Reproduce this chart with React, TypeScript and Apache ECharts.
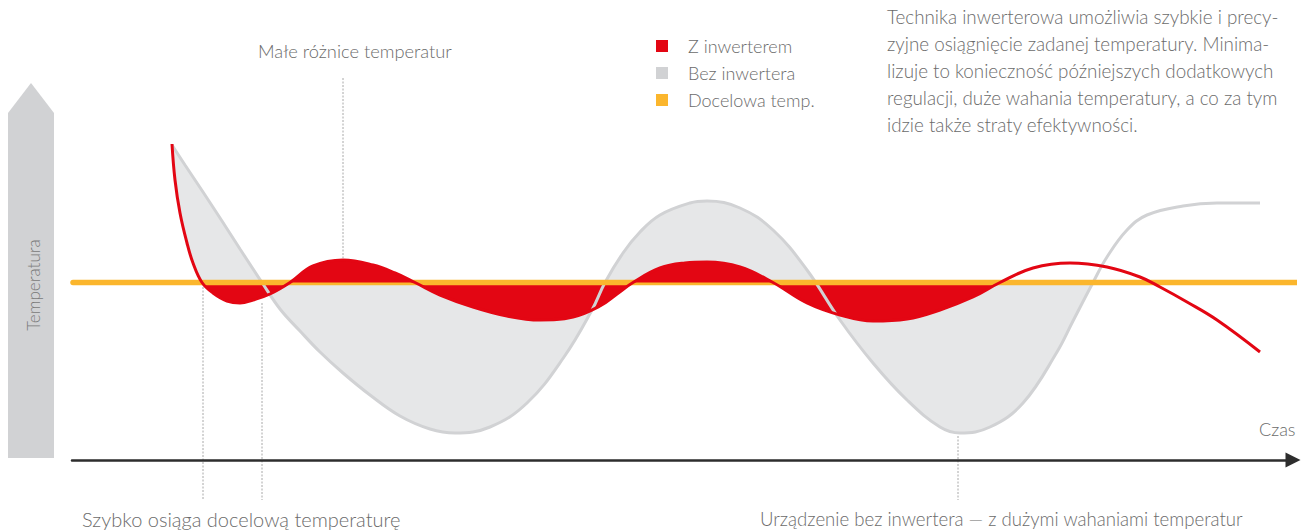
import React, { useEffect, useRef } from "react";
import * as echarts from "echarts";

// ---- data (time in arbitrary units, temperature in arbitrary units) ----
const TARGET = 17.75;
const targetSpan = [0.1, 122.8];

const timeGray = [10.0, 11.3, 13.1, 15.0, 16.8, 19.0, 20.8, 22.8, 24.8, 27.1, 29.8, 32.8, 35.8, 38.3, 41.8, 45.5, 49.2, 52.0, 53.3, 55.1, 56.8, 58.8, 61.8, 63.5, 66.8, 70.1, 73.5, 76.8, 80.1, 83.5, 86.8, 88.8, 91.8, 95.1, 98.5, 100.1, 102.1, 103.5, 105.5, 107.5, 111.1, 114.5, 118.8];
const tempGray = [31.5, 29.5, 26.8, 23.9, 21.1, 17.75, 15.1, 12.9, 10.8, 8.7, 6.5, 4.4, 3.1, 2.7, 3.3, 5.7, 10.3, 15.0, 17.75, 20.7, 22.8, 24.5, 25.7, 25.9, 25.2, 23.0, 19.0, 14.0, 9.7, 6.0, 3.3, 2.7, 3.3, 5.7, 10.8, 13.9, 17.75, 20.3, 23.0, 24.5, 25.4, 25.7, 25.7];

const timeRed = [10.0, 10.3, 10.8, 11.5, 12.1, 13.0, 14.1, 15.5, 16.8, 18.1, 19.8, 21.8, 24.1, 27.1, 30.1, 32.3, 34.3, 36.8, 40.1, 43.5, 46.8, 50.1, 52.8, 54.5, 56.1, 58.8, 61.3, 63.5, 66.8, 70.1, 73.5, 76.8, 80.1, 83.5, 86.8, 90.1, 92.8, 96.1, 99.8, 103.5, 106.8, 108.8, 111.5, 114.5, 118.8];
const tempRed = [31.6, 28.0, 24.7, 21.7, 19.7, 17.75, 16.7, 15.9, 15.7, 16.0, 16.6, 17.75, 19.4, 20.0, 19.5, 18.7, 17.75, 16.5, 15.3, 14.4, 14.0, 14.3, 15.4, 16.6, 17.75, 19.2, 19.7, 19.8, 19.3, 17.75, 15.7, 14.5, 13.9, 14.1, 15.0, 16.3, 17.75, 19.2, 19.7, 19.3, 18.3, 17.3, 15.8, 14.0, 10.8];

const legendNames = ["Z inwerterem", "Bez inwertera", "Docelowa temp."];

const RED = "#e30613";
const GRAY = "#d1d2d4";
const GRAY_FILL = "#e6e7e8";
const ORANGE = "#fbb62d";
const TEXT = "#6b6b6b";
const FONT = "Lato, 'Open Sans', sans-serif";

const pts = (xs: number[], ys: number[]) => xs.map((x, i) => [x, ys[i]]);

export default function App() {
  const ref = useRef<HTMLDivElement>(null);

  useEffect(() => {
    if (!ref.current) return;
    const chart = echarts.init(ref.current, undefined, { renderer: "svg" });

    const gray = pts(timeGray, tempGray);
    const red = pts(timeRed, tempRed);
    const redCross = tempRed.map((v, i) => (v === TARGET ? i : -1)).filter((i) => i >= 0);
    const grayCross = tempGray.map((v, i) => (v === TARGET ? i : -1)).filter((i) => i >= 0);

    const patch = red.slice(0, redCross[0] + 1);
    const redFillAll = red.slice(redCross[0], redCross[redCross.length - 1] + 1);
    const redFillAbove: any[] = [];
    for (let k = 0; k < redCross.length - 1; k++) {
      const a = redCross[k];
      const b = redCross[k + 1];
      const mid = Math.floor((a + b) / 2);
      if (tempRed[mid] > TARGET) {
        if (redFillAbove.length) redFillAbove.push([timeRed[a] - 0.01, "-"]);
        for (let i = a; i <= b; i++) redFillAbove.push(red[i]);
      }
    }
    const grayFill = gray.slice(0, grayCross[grayCross.length - 1] + 1);
    const targetData = targetSpan.map((x) => [x, TARGET]);

    const common = {
      type: "line",
      smooth: 0.4,
      symbol: "none",
      showSymbol: false,
      silent: true,
    };

    const txt = (text: string, x: number, y: number, size: number) => ({
      type: "text",
      x,
      y,
      silent: true,
      style: {
        text,
        fill: TEXT,
        font: `300 ${size}px ${FONT}`,
        textVerticalAlign: "middle",
      },
    });

    const dotted = (x: number, y1: number, y2: number) => ({
      type: "line",
      silent: true,
      z: 0,
      shape: { x1: x, y1, x2: x, y2 },
      style: { stroke: "#a8a8a8", lineWidth: 1, lineDash: [2, 1.5] },
    });

    chart.setOption({
      animation: false,
      grid: { left: 72, right: 14, top: 0, bottom: 70, containLabel: false },
      xAxis: {
        type: "value",
        min: 0,
        max: 122.1,
        axisLine: {
          show: true,
          onZero: false,
          symbol: ["none", "triangle"],
          symbolSize: [15, 15],
          lineStyle: { color: "#2d2d2d", width: 2.5 },
        },
        axisTick: { show: false },
        axisLabel: { show: false },
        splitLine: { show: false },
      },
      yAxis: {
        type: "value",
        min: 0,
        max: 46,
        show: false,
        splitLine: { show: false },
      },
      legend: {
        orient: "vertical",
        left: 656,
        top: 37,
        padding: 0,
        itemWidth: 12,
        itemHeight: 12,
        itemGap: 9,
        icon: "rect",
        selectedMode: false,
        data: [
          { name: legendNames[0], itemStyle: { color: RED } },
          { name: legendNames[1], itemStyle: { color: GRAY } },
          { name: legendNames[2], itemStyle: { color: ORANGE } },
        ],
        textStyle: {
          fontFamily: FONT,
          fontSize: 18,
          fontWeight: 300,
          color: TEXT,
          lineHeight: 12,
          padding: [0, 0, 0, 15],
        },
      },
      series: [
        { ...common, name: "fill-gray", data: grayFill, z: 1, lineStyle: { width: 0 }, areaStyle: { color: GRAY_FILL, opacity: 1, origin: TARGET } },
        { ...common, name: "fill-patch", data: patch, z: 2, lineStyle: { width: 0 }, areaStyle: { color: "#ffffff", opacity: 1, origin: TARGET } },
        { ...common, name: "fill-red", data: redFillAll, z: 3, lineStyle: { width: 0 }, areaStyle: { color: RED, opacity: 1, origin: TARGET } },
        { ...common, name: legendNames[1], data: gray, z: 4, lineStyle: { width: 3, color: GRAY }, itemStyle: { color: GRAY } },
        { ...common, name: legendNames[2], data: targetData, z: 5, smooth: false, clip: false, lineStyle: { width: 5.5, color: ORANGE, cap: "round" }, itemStyle: { color: ORANGE } },
        { ...common, name: "fill-red-above", data: redFillAbove, z: 6, lineStyle: { width: 0 }, areaStyle: { color: RED, opacity: 1, origin: TARGET } },
        { ...common, name: legendNames[0], data: red, z: 7, lineStyle: { width: 3, color: RED }, itemStyle: { color: RED } },
      ],
      graphic: [
        {
          type: "polygon",
          silent: true,
          z: 0,
          shape: { points: [[8, 458], [8, 113], [31, 83], [54, 113], [54, 458]] },
          style: { fill: GRAY },
        },
        {
          type: "text",
          silent: true,
          x: 33,
          y: 285,
          rotation: Math.PI / 2,
          style: {
            text: "Temperatura",
            fill: "#7a7a7a",
            font: `300 17px ${FONT}`,
            textAlign: "center",
            textVerticalAlign: "middle",
          },
        },
        dotted(203, 287, 500),
        dotted(262, 303, 500),
        dotted(343, 78, 258),
        dotted(958, 436, 500),
        txt("Małe różnice temperatur", 258, 51, 18.3),
        txt("Czas", 1259, 429, 18),
        txt("Szybko osiąga docelową temperaturę", 82, 519, 20),
        txt("Urządzenie bez inwertera — z dużymi wahaniami temperatur", 760, 519, 18.6),
        {
          type: "text",
          silent: true,
          x: 887,
          y: 3,
          style: {
            text:
              "Technika inwerterowa umożliwia szybkie i precy-\n" +
              "zyjne osiągnięcie zadanej temperatury. Minima-\n" +
              "lizuje to konieczność późniejszych dodatkowych\n" +
              "regulacji, duże wahania temperatury, a co za tym\n" +
              "idzie także straty efektywności.",
            fill: TEXT,
            font: `300 18.8px ${FONT}`,
            lineHeight: 27,
            textVerticalAlign: "top",
          },
        },
      ],
    });

    return () => chart.dispose();
  }, []);

  return (
    <div
      ref={ref}
      style={{ position: "fixed", left: 0, top: 0, width: 1307, height: 530, background: "#fff" }}
    />
  );
}
